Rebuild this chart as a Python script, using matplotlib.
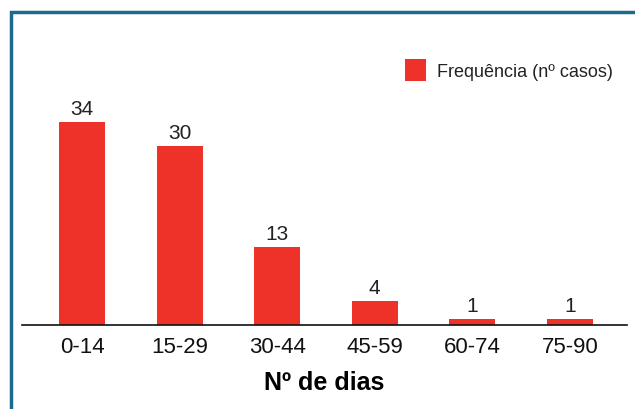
import matplotlib.pyplot as plt
from matplotlib.patches import Rectangle

# dados
categorias = ["0-14", "15-29", "30-44", "45-59", "60-74", "75-90"]
frequencia = [34, 30, 13, 4, 1, 1]

vermelho = "#ee3129"
azul = "#1d6a8d"

plt.rcParams['font.family'] = ['Liberation Sans', 'DejaVu Sans']

fig = plt.figure(figsize=(6.35, 4.10), dpi=100)
ax = fig.add_axes([22 / 635, 84 / 410, 605 / 635, 239 / 410])

x = range(len(categorias))
bars = ax.bar(x, frequencia, width=0.47, color=vermelho, label="Frequência (nº casos)")

for b, v in zip(bars, frequencia):
    ax.annotate(str(v), (b.get_x() + b.get_width() / 2, v), xytext=(0, 3),
                textcoords="offset points", ha="center", va="bottom",
                fontsize=15, color="#222222")

ax.set_xlim(-0.615, 5.584)
ax.set_ylim(0, 40)
ax.set_xticks(list(x))
ax.set_xticklabels(categorias, fontsize=16, color="#111111")
ax.tick_params(axis="x", length=0, pad=8)
ax.set_yticks([])
for s in ["top", "right", "left"]:
    ax.spines[s].set_visible(False)
ax.spines["bottom"].set_linewidth(1.2)
ax.spines["bottom"].set_color("#111111")

ax.set_xlabel("Nº de dias", fontsize=18, fontweight="bold", labelpad=9)

leg = ax.legend(loc="center right", bbox_to_anchor=(622 / 635, 1 - 71 / 410),
                bbox_transform=fig.transFigure, frameon=False, borderpad=0,
                fontsize=13, handlelength=1.2, handleheight=1.5, handletextpad=0.6)
for t in leg.get_texts():
    t.set_color("#222222")

# moldura azul (só se vê topo e lado esquerdo)
fig.patches.append(Rectangle((11 / 635, -0.2), 1.2, 0.2 + (1 - 13 / 410),
                             transform=fig.transFigure, fill=False,
                             edgecolor=azul, linewidth=2.5, clip_on=False))

fig.savefig("out.png", dpi=100)
